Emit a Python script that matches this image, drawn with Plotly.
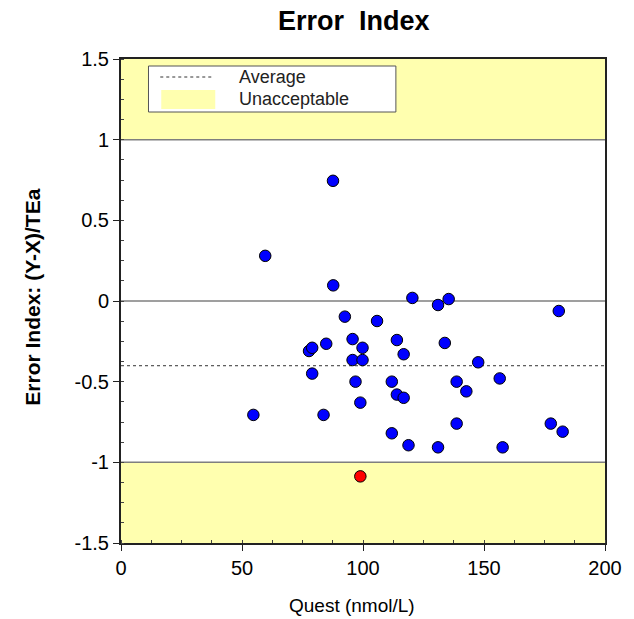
import plotly.graph_objects as go

# ---- data ----
quest = [59.6, 87.6, 87.7, 77.7, 79.0, 84.8, 79.0, 54.7, 83.7, 92.5,
         95.7, 95.7, 99.8, 99.8, 96.9, 98.9, 105.8, 114.0, 116.8, 120.4,
         111.9, 114.0, 116.8, 111.9, 118.8, 131.0, 135.4, 133.8, 138.7, 142.7,
         147.6, 138.7, 131.0, 156.5, 157.7, 180.9, 177.6, 182.5]
error_index = [0.28, 0.745, 0.097, -0.31, -0.29, -0.265, -0.45, -0.706, -0.706, -0.097,
               -0.236, -0.366, -0.366, -0.29, -0.50, -0.63, -0.124, -0.242, -0.33, 0.019,
               -0.50, -0.58, -0.60, -0.82, -0.894, -0.025, 0.012, -0.26, -0.50, -0.56,
               -0.38, -0.76, -0.907, -0.48, -0.907, -0.062, -0.76, -0.81]
# points outside the acceptable range
out_quest = [98.9]
out_error_index = [-1.087]

all_y = error_index + out_error_index
average = sum(all_y) / len(all_y)

limit = 1.0
x_range = [0, 200]
y_range = [-1.5, 1.5]
x_ticks = [0, 50, 100, 150, 200]
y_ticks = [-1.5, -1, -0.5, 0, 0.5, 1, 1.5]
y_tick_labels = ["-1.5", "-1", "-0.5", "0", "0.5", "1", "1.5"]

FONT = "Arial, 'Liberation Sans', sans-serif"
YELLOW = "#FFFFAF"

fig = go.Figure()

# unacceptable regions
shapes = [
    dict(type="rect", xref="x", yref="y", x0=x_range[0], x1=x_range[1], y0=limit, y1=y_range[1],
         fillcolor=YELLOW, line=dict(width=0), layer="below"),
    dict(type="rect", xref="x", yref="y", x0=x_range[0], x1=x_range[1], y0=y_range[0], y1=-limit,
         fillcolor=YELLOW, line=dict(width=0), layer="below"),
]
for yv in [limit, 0, -limit]:
    shapes.append(dict(type="line", xref="x", yref="y", x0=x_range[0], x1=x_range[1], y0=yv, y1=yv,
                       line=dict(color="#7f7f7f", width=1.5), layer="below"))
shapes.append(dict(type="line", xref="x", yref="y", x0=x_range[0], x1=x_range[1], y0=average, y1=average,
                   line=dict(color="#333333", width=1, dash="dot"), layer="below"))

# manual legend box (paper coordinates)
W, H = 634, 619
ml, mr, mt, mb = 121, 20, 59, 76
pw, ph = W - ml - mr, H - mt - mb


def px_x(p):
    return (p - ml) / pw


def px_y(p):
    return 1 - (p - mt) / ph


shapes.append(dict(type="rect", xref="paper", yref="paper", x0=px_x(149), x1=px_x(401),
                   y0=px_y(112), y1=px_y(66), fillcolor="white",
                   line=dict(color="#555555", width=1), layer="above"))
shapes.append(dict(type="line", xref="paper", yref="paper", x0=px_x(161), x1=px_x(216),
                   y0=px_y(77), y1=px_y(77), line=dict(color="#333333", width=1, dash="dot"),
                   layer="above"))
shapes.append(dict(type="rect", xref="paper", yref="paper", x0=px_x(162), x1=px_x(217),
                   y0=px_y(109), y1=px_y(90), fillcolor=YELLOW, line=dict(width=0),
                   layer="above"))

fig.add_trace(go.Scatter(
    x=quest, y=error_index, mode="markers",
    marker=dict(color="#0000FF", size=11.5, line=dict(color="black", width=1)),
    showlegend=False, cliponaxis=False))
fig.add_trace(go.Scatter(
    x=out_quest, y=out_error_index, mode="markers",
    marker=dict(color="#FF0000", size=11.5, line=dict(color="black", width=1)),
    showlegend=False, cliponaxis=False))

annotations = [
    dict(text="Average", xref="paper", yref="paper", x=px_x(239), y=px_y(77),
         xanchor="left", yanchor="middle", showarrow=False,
         font=dict(family=FONT, size=18, color="#222222")),
    dict(text="Unacceptable", xref="paper", yref="paper", x=px_x(239), y=px_y(99),
         xanchor="left", yanchor="middle", showarrow=False,
         font=dict(family=FONT, size=18, color="#222222")),
    dict(text="<b>Error Index: (Y-X)/TEa</b>", xref="paper", yref="paper", x=px_x(30), y=px_y(297),
         xanchor="center", yanchor="middle", textangle=-90, showarrow=False,
         font=dict(family=FONT, size=21, color="black")),
    dict(text="Quest (nmol/L)", xref="paper", yref="paper", x=px_x(356), y=px_y(605),
         xanchor="center", yanchor="middle", showarrow=False,
         font=dict(family=FONT, size=19, color="black")),
    dict(text="<b>Error  Index</b>", xref="paper", yref="paper", x=px_x(358), y=px_y(21),
         xanchor="center", yanchor="middle", showarrow=False,
         font=dict(family=FONT, size=27, color="black")),
]

fig.update_layout(
    width=W, height=H,
    margin=dict(l=ml, r=mr, t=mt, b=mb),
    paper_bgcolor="white", plot_bgcolor="white",
    shapes=shapes, annotations=annotations,
    showlegend=False,
    font=dict(family=FONT, size=19, color="black"),
    xaxis=dict(range=x_range, tickvals=x_ticks, showgrid=False, zeroline=False,
               showline=True, linecolor="#222222", linewidth=2, mirror=True,
               ticks="outside", ticklen=6, tickcolor="#222222", tickwidth=1,
               minor=dict(dtick=12.5, ticks="inside", ticklen=3, tickcolor="#444444"),
               tickfont=dict(size=20, family=FONT)),
    yaxis=dict(range=y_range, tickvals=y_ticks, ticktext=y_tick_labels, showgrid=False,
               zeroline=False, showline=True, linecolor="#222222", linewidth=2, mirror=True,
               ticks="outside", ticklen=6, tickcolor="#222222", tickwidth=1,
               minor=dict(dtick=0.125, ticks="inside", ticklen=3, tickcolor="#444444"),
               tickfont=dict(size=20, family=FONT)),
)

fig.write_html("out.html")
